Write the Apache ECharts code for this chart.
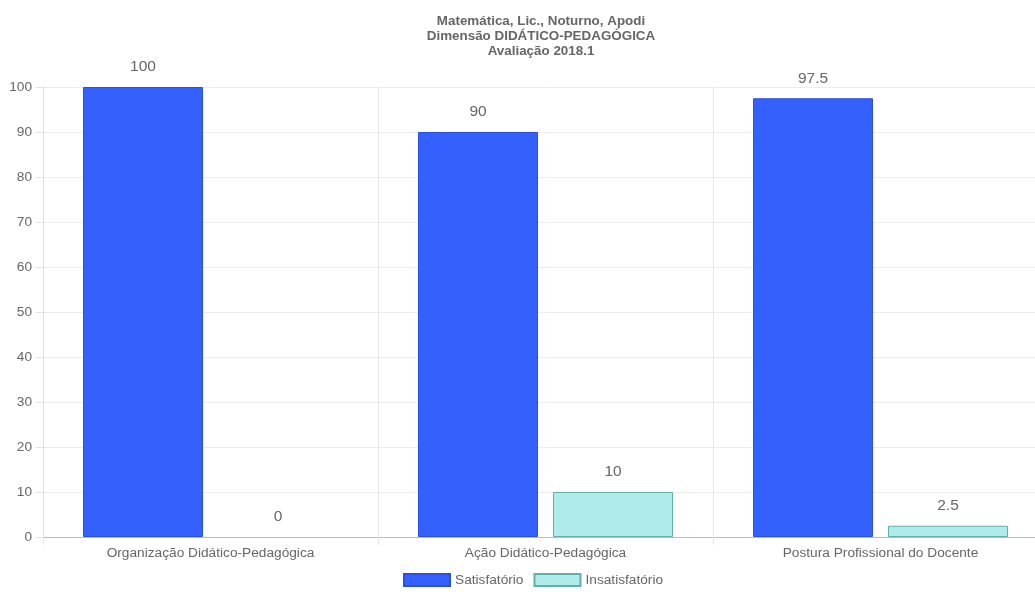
<!DOCTYPE html>
<html><head><meta charset="utf-8">
<script src="https://cdn.jsdelivr.net/npm/echarts@6/dist/echarts.min.js"></script>
<style>html,body{margin:0;padding:0;background:#fff;width:1035px;height:592px;overflow:hidden}#c{width:1048px;height:592px}</style>
</head><body><div id="c"></div>
<script>
const categories = ['Organização Didático-Pedagógica', 'Ação Didático-Pedagógica', 'Postura Profissional do Docente'];
const satisfatorio = [100, 90, 97.5];
const insatisfatorio = [0, 10, 2.5];
const titleLines = ['Matemática, Lic., Noturno, Apodi', 'Dimensão DIDÁTICO-PEDAGÓGICA', 'Avaliação 2018.1'];
const chart = echarts.init(document.getElementById('c'));
const font = 'Arial, "Liberation Sans", Helvetica, sans-serif';
const toItems = arr => arr.map(v => v === 0 ? {value: v, itemStyle: {borderWidth: 0, opacity: 0}, label: {opacity: 1}} : v);
const lbl = {show: true, position: 'top', distance: 12, fontSize: 15.5, color: '#666', fontFamily: font};
chart.setOption({
  animation: false,
  title: {
    text: titleLines.join('\n'),
    left: 536, top: 9, textAlign: 'center',
    textStyle: {fontSize: 13.4, fontWeight: 'bold', color: '#666', fontFamily: font, lineHeight: 15}
  },
  legend: {
    bottom: 0, left: 398, itemWidth: 46, itemHeight: 12, itemGap: 10, icon: 'rect',
    textStyle: {fontSize: 13.7, color: '#666', fontFamily: font},
    data: ['Satisfatório', 'Insatisfatório']
  },
  grid: {left: 43, right: 0, top: 87, bottom: 55, containLabel: false},
  xAxis: {
    type: 'category', data: categories,
    axisLine: {lineStyle: {color: '#bbb'}},
    axisTick: {show: true, length: 8, lineStyle: {color: '#e5e5e5'}},
    splitLine: {show: true, lineStyle: {color: '#e8e8e8'}},
    axisLabel: {fontSize: 13.7, color: '#666', fontFamily: font, margin: 9}
  },
  yAxis: {
    type: 'value', min: 0, max: 100, interval: 10,
    axisLine: {show: true, lineStyle: {color: '#ddd'}},
    axisTick: {show: true, length: 8, lineStyle: {color: '#e5e5e5'}},
    splitLine: {show: true, lineStyle: {color: '#ececec'}},
    axisLabel: {fontSize: 13.7, color: '#666', fontFamily: font, margin: 11}
  },
  series: [
    {
      name: 'Satisfatório', type: 'bar', data: toItems(satisfatorio),
      barWidth: 120, barGap: '12.5%',
      itemStyle: {color: '#3461fd', borderColor: '#2a50e0', borderWidth: 1},
      label: lbl
    },
    {
      name: 'Insatisfatório', type: 'bar', data: toItems(insatisfatorio),
      barWidth: 120,
      itemStyle: {color: '#aeebe9', borderColor: '#62b0aa', borderWidth: 1},
      label: lbl
    }
  ]
});
</script></body></html>
